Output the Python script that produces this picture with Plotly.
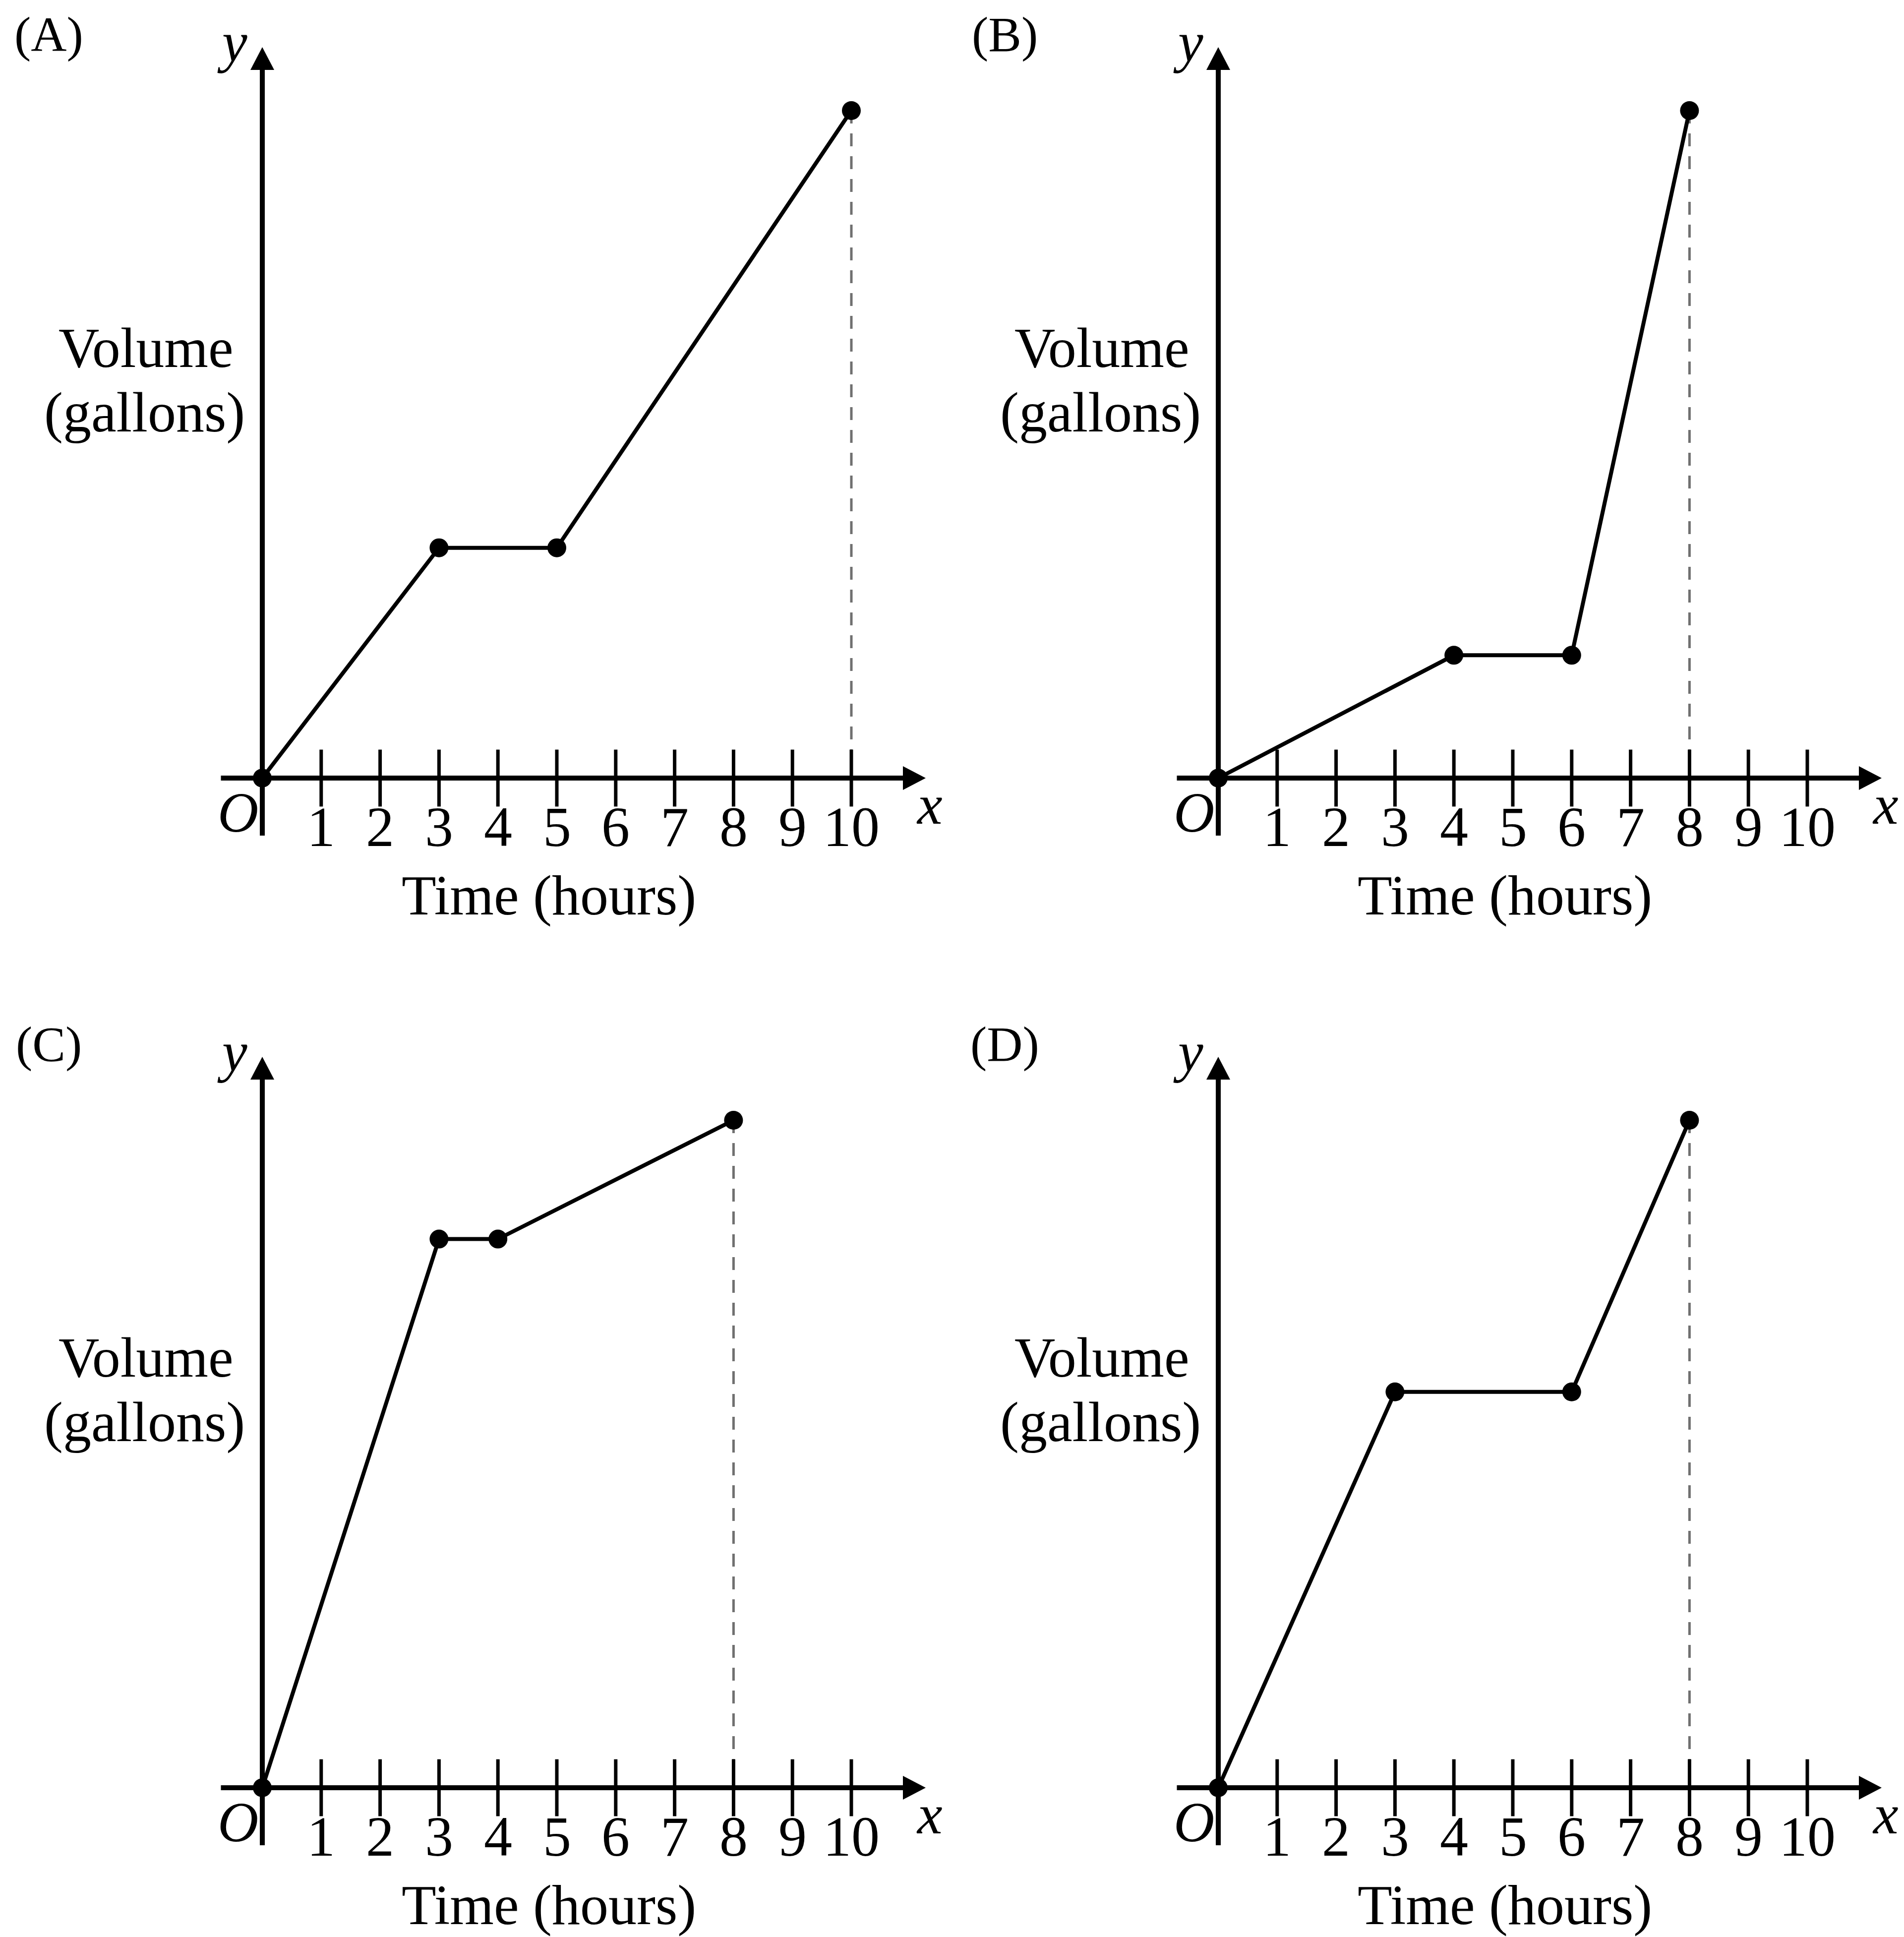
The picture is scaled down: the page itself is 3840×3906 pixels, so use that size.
import plotly.graph_objects as go

# ---------------- data ----------------
PANEL_LABELS = ["(A)", "(B)", "(C)", "(D)"]
A_TIME = [0, 3, 5, 10]
A_VOLUME = [0, 34.5, 34.5, 100]
B_TIME = [0, 4, 6, 8]
B_VOLUME = [0, 18.4, 18.4, 100]
C_TIME = [0, 3, 4, 8]
C_VOLUME = [0, 82.2, 82.2, 100]
D_TIME = [0, 3, 6, 8]
D_VOLUME = [0, 59.3, 59.3, 100]
TICK_VALUES = [1, 2, 3, 4, 5, 6, 7, 8, 9, 10]
TICK_LABELS = ["1", "2", "3", "4", "5", "6", "7", "8", "9", "10"]
X_TITLE = "Time (hours)"
Y_TITLE_1 = "Volume"
Y_TITLE_2 = "(gallons)"

SERIES = [(A_TIME, A_VOLUME), (B_TIME, B_VOLUME), (C_TIME, C_VOLUME), (D_TIME, D_VOLUME)]

# ---------------- layout constants (pixels) ----------------
W, H = 3840, 3906
UX = 118.8      # px per hour
UY = 13.46      # px per volume unit
ORIGINS = [(521, 1561), (2449, 1561), (521, 3597), (2449, 3597)]
BOXES = [(0, 1920, 0, 1953), (1920, 3840, 0, 1953), (0, 1920, 1953, 3906), (1920, 3840, 1953, 3906)]
FONT = "Liberation Serif"
FS = 114
FS_LABEL = 100
AXIS_W = 10
X_START_PX, X_TIP_PX = -83.5, 1338
Y_START_PX, Y_TIP_PX = -116, 1474
HEAD_LEN, HEAD_HALF = 46, 24

fig = go.Figure()
annotations = []
layout_axes = {}

for i, ((tx, vy), (ox, oy), (x0, x1, py0, py1)) in enumerate(zip(SERIES, ORIGINS, BOXES)):
    n = i + 1
    xa = "x" if n == 1 else f"x{n}"
    ya = "y" if n == 1 else f"y{n}"
    xr = [(x0 - ox) / UX, (x1 - ox) / UX]
    yr = [(oy - py1) / UY, (oy - py0) / UY]
    layout_axes[("xaxis" if n == 1 else f"xaxis{n}")] = dict(
        domain=[x0 / W, x1 / W], range=xr, visible=False, anchor=ya, fixedrange=True)
    layout_axes[("yaxis" if n == 1 else f"yaxis{n}")] = dict(
        domain=[1 - py1 / H, 1 - py0 / H], range=yr, visible=False, anchor=xa, fixedrange=True)

    # dashed guide from the last point down to the time axis
    fig.add_trace(go.Scatter(x=[tx[-1], tx[-1]], y=[vy[-1], 0], mode="lines",
                             line=dict(color="#707070", width=5, dash="26px,20px"),
                             xaxis=xa, yaxis=ya, hoverinfo="skip", showlegend=False))

    # axes lines
    xs_end = (X_TIP_PX - HEAD_LEN + 2) / UX
    fig.add_trace(go.Scatter(x=[X_START_PX / UX, xs_end], y=[0, 0], mode="lines",
                             line=dict(color="black", width=AXIS_W),
                             xaxis=xa, yaxis=ya, hoverinfo="skip", showlegend=False))
    ys_end = (Y_TIP_PX - HEAD_LEN + 2) / UY
    fig.add_trace(go.Scatter(x=[0, 0], y=[Y_START_PX / UY, ys_end], mode="lines",
                             line=dict(color="black", width=AXIS_W),
                             xaxis=xa, yaxis=ya, hoverinfo="skip", showlegend=False))
    # arrow heads
    fig.add_trace(go.Scatter(
        x=[X_TIP_PX / UX, (X_TIP_PX - HEAD_LEN) / UX, (X_TIP_PX - HEAD_LEN) / UX, X_TIP_PX / UX],
        y=[0, HEAD_HALF / UY, -HEAD_HALF / UY, 0],
        mode="lines", fill="toself", fillcolor="black", line=dict(width=0, color="black"),
        xaxis=xa, yaxis=ya, hoverinfo="skip", showlegend=False))
    fig.add_trace(go.Scatter(
        x=[0, HEAD_HALF / UX, -HEAD_HALF / UX, 0],
        y=[Y_TIP_PX / UY, (Y_TIP_PX - HEAD_LEN) / UY, (Y_TIP_PX - HEAD_LEN) / UY, Y_TIP_PX / UY],
        mode="lines", fill="toself", fillcolor="black", line=dict(width=0, color="black"),
        xaxis=xa, yaxis=ya, hoverinfo="skip", showlegend=False))

    # tick marks
    fig.add_trace(go.Scatter(x=TICK_VALUES, y=[0] * len(TICK_VALUES), mode="markers",
                             marker=dict(symbol="line-ns", size=82, color="black",
                                         line=dict(width=7, color="black")),
                             xaxis=xa, yaxis=ya, hoverinfo="skip", showlegend=False))

    # data
    fig.add_trace(go.Scatter(x=tx, y=vy, mode="lines+markers",
                             line=dict(color="black", width=8),
                             marker=dict(size=38, color="black"),
                             cliponaxis=False,
                             xaxis=xa, yaxis=ya, showlegend=False))

    def ann(x, y, text, dx=0, dy=0, size=FS):
        annotations.append(dict(x=x, y=y, xref=xa, yref=ya, text=text, showarrow=False,
                                xanchor="center", yanchor="middle", xshift=dx, yshift=dy,
                                font=dict(family=FONT, size=size, color="black")))

    for tv, tl in zip(TICK_VALUES, TICK_LABELS):
        ann(tv, 0, tl, 0, -98)
    ann(0, 0, "<i>O</i>", -49, -69)
    ann(0, 0, "<i>x</i>", 1345, -53)
    ann(0, 0, "<i>y</i>", -61, 1484)
    ann(0, 0, Y_TITLE_1, -235, 868)
    ann(0, 0, Y_TITLE_2, -238, 738)
    ann(0, 0, X_TITLE, 578, -236)
    ann(0, 0, PANEL_LABELS[i], -431, 1500, FS_LABEL)

fig.update_layout(
    width=W, height=H, autosize=False,
    margin=dict(l=0, r=0, t=0, b=0, pad=0),
    paper_bgcolor="white", plot_bgcolor="white",
    showlegend=False, annotations=annotations,
    **layout_axes,
)
fig.write_html("out.html")
